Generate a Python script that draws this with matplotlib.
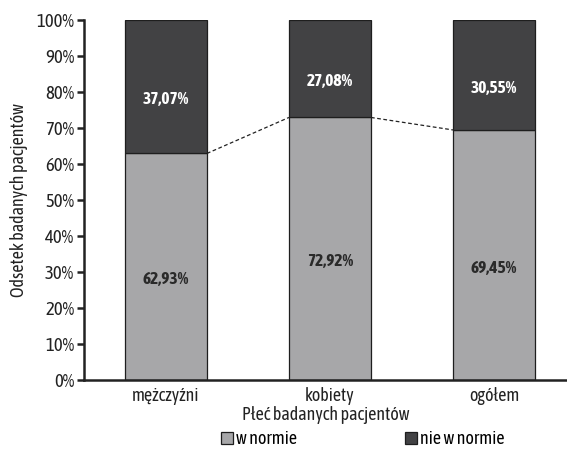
import matplotlib.pyplot as plt
import matplotlib.ticker as ticker
from matplotlib.patches import Patch
import numpy as np

categories = ["mężczyźni", "kobiety", "ogółem"]
w_normie = [62.93, 72.92, 69.45]
nie_w_normie = [37.07, 27.08, 30.55]

GRAY = "#a7a7a9"
DARK = "#424244"
INK = "#222222"

plt.rcParams["font.family"] = ["Asap Condensed", "Archivo Narrow", "DejaVu Sans"]


def fmt(v):
    return f"{v:.2f}".replace(".", ",") + "%"


fig = plt.figure(figsize=(5.67, 4.53), dpi=100)
ax = fig.add_axes([0.148, 0.161, 0.852, 0.795])

x = np.arange(len(categories))
width = 0.5
ax.bar(x, w_normie, width, color=GRAY, edgecolor="#1e1e1e", linewidth=0.9, zorder=2)
ax.bar(x, nie_w_normie, width, bottom=w_normie, color=DARK, edgecolor="#1e1e1e",
       linewidth=0.9, zorder=2)

# dashed series lines between tops of the lower segments
for i in range(len(x) - 1):
    ax.plot([x[i] + width / 2, x[i + 1] - width / 2], [w_normie[i], w_normie[i + 1]],
            color=INK, linestyle=(0, (3, 2)), linewidth=0.9, zorder=1)

for xi, lo, hi in zip(x, w_normie, nie_w_normie):
    ax.text(xi, lo / 2 - 3.5, fmt(lo), ha="center", va="center",
            fontsize=12.5, fontweight="bold", color="#2a2a2a")
    ax.text(xi, lo + hi / 2 - 3.5, fmt(hi), ha="center", va="center",
            fontsize=12.5, fontweight="bold", color="white")

ax.set_xlim(-0.5, 2.445)
ax.set_ylim(0, 100)
ax.yaxis.set_major_locator(ticker.MultipleLocator(10))
ax.yaxis.set_major_formatter(ticker.FuncFormatter(lambda v, p: f"{v:.0f}%"))
ax.set_xticks(x)
ax.set_xticklabels(categories)
ax.tick_params(axis="x", length=0, labelsize=13, pad=5, colors=INK)
ax.tick_params(axis="y", direction="out", length=5, width=1.8, labelsize=13.5,
               pad=2, colors=INK)

for side in ["top", "right"]:
    ax.spines[side].set_visible(False)
for side in ["left", "bottom"]:
    ax.spines[side].set_linewidth(1.8)
    ax.spines[side].set_color(INK)

ax.set_ylabel("Odsetek badanych pacjentów", fontsize=13, color=INK, labelpad=6)
ax.set_xlabel("Płeć badanych pacjentów", fontsize=13, color=INK, labelpad=1)

handles = [Patch(facecolor=GRAY, edgecolor="#1e1e1e", linewidth=0.9),
           Patch(facecolor=DARK, edgecolor="#1e1e1e", linewidth=0.9)]
fig.legend(handles, ["w normie", "nie w normie"], loc="lower center",
           bbox_to_anchor=(0.64, -0.025), ncol=2, frameon=False, fontsize=13,
           handlelength=0.67, handleheight=0.67, handletextpad=0.15,
           columnspacing=6.0)

fig.savefig("out.png", dpi=100)
